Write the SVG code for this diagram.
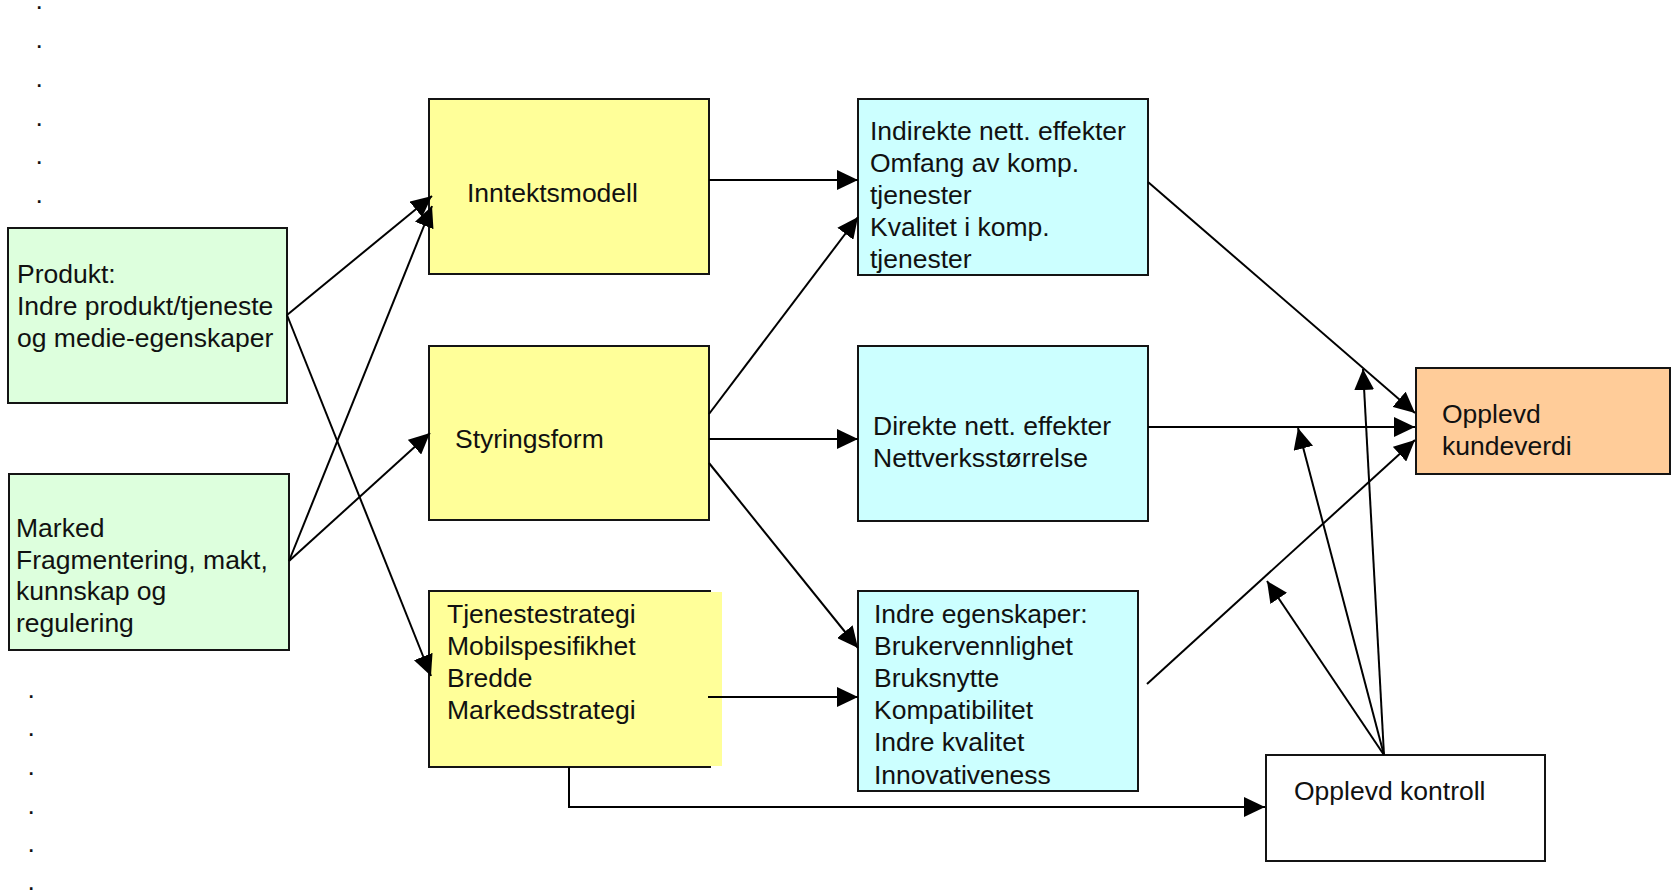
<svg xmlns="http://www.w3.org/2000/svg" width="1671" height="892" viewBox="0 0 1671 892">
  <style>
    .box { stroke: #141414; stroke-width: 2; }
    .green { fill: #DDFFDD; }
    .yellow { fill: #FFFF99; }
    .cyan { fill: #CCFFFF; }
    .orange { fill: #FFCC99; }
    .white { fill: #FFFFFF; }
    text { font-family: "Liberation Sans", Arial, sans-serif; font-size: 26.5px; fill: #111111; }
    .conn line, .conn polyline { stroke: #000000; stroke-width: 2; fill: none; }
    .arrow { marker-end: url(#head); }
  </style>
  <defs>
    <marker id="head" markerUnits="userSpaceOnUse" markerWidth="22" markerHeight="20" refX="21" refY="10" orient="auto" viewBox="0 0 22 20">
      <path d="M0,0 L21,10 L0,20 Z" fill="#000000"/>
    </marker>
  </defs>
  <rect width="1671" height="892" fill="#FFFFFF"/>

  <!-- paragraph marks down the margin -->
  <g id="margin-dots">
    <text x="35.5" y="9">.</text>
    <text x="35.5" y="48">.</text>
    <text x="35.5" y="87">.</text>
    <text x="35.5" y="126">.</text>
    <text x="35.5" y="164">.</text>
    <text x="35.5" y="203">.</text>
    <text x="27.5" y="698">.</text>
    <text x="27.5" y="736">.</text>
    <text x="27.5" y="775">.</text>
    <text x="27.5" y="814">.</text>
    <text x="27.5" y="852">.</text>
    <text x="27.5" y="890">.</text>
  </g>

  <g id="produkt">
    <rect class="box green" x="8" y="228" width="279" height="175"/>
    <text x="17" y="283">Produkt:</text>
    <text x="17" y="315">Indre produkt/tjeneste</text>
    <text x="17" y="347">og medie-egenskaper</text>
  </g>

  <g id="marked">
    <rect class="box green" x="9" y="474" width="280" height="176"/>
    <text x="16" y="537">Marked</text>
    <text x="16" y="569">Fragmentering, makt,</text>
    <text x="16" y="600">kunnskap og</text>
    <text x="16" y="632">regulering</text>
  </g>

  <g id="inntektsmodell">
    <rect class="box yellow" x="429" y="99" width="280" height="175"/>
    <text x="467" y="202">Inntektsmodell</text>
  </g>

  <g id="styringsform">
    <rect class="box yellow" x="429" y="346" width="280" height="174"/>
    <text x="455" y="448">Styringsform</text>
  </g>

  <g id="tjenestestrategi">
    <rect class="box yellow" x="429" y="591" width="281" height="176"/>
    <rect class="yellow" x="431" y="592" width="291" height="174"/>
    <text x="447" y="623">Tjenestestrategi</text>
    <text x="447" y="655">Mobilspesifikhet</text>
    <text x="447" y="687">Bredde</text>
    <text x="447" y="719">Markedsstrategi</text>
  </g>

  <g id="indirekte">
    <rect class="box cyan" x="858" y="99" width="290" height="176"/>
    <text x="870" y="140">Indirekte nett. effekter</text>
    <text x="870" y="172">Omfang av komp.</text>
    <text x="870" y="204">tjenester</text>
    <text x="870" y="236">Kvalitet i komp.</text>
    <text x="870" y="268">tjenester</text>
  </g>

  <g id="direkte">
    <rect class="box cyan" x="858" y="346" width="290" height="175"/>
    <text x="873" y="435">Direkte nett. effekter</text>
    <text x="873" y="467">Nettverksstørrelse</text>
  </g>

  <g id="indre-egenskaper">
    <rect class="box cyan" x="858" y="591" width="280" height="200"/>
    <text x="874" y="623">Indre egenskaper:</text>
    <text x="874" y="655">Brukervennlighet</text>
    <text x="874" y="687">Bruksnytte</text>
    <text x="874" y="719">Kompatibilitet</text>
    <text x="874" y="751">Indre kvalitet</text>
    <text x="874" y="784">Innovativeness</text>
  </g>

  <g id="opplevd-kundeverdi">
    <rect class="box orange" x="1416" y="368" width="254" height="106"/>
    <text x="1442" y="423">Opplevd</text>
    <text x="1442" y="455">kundeverdi</text>
  </g>

  <g id="opplevd-kontroll">
    <rect class="box white" x="1266" y="755" width="279" height="106"/>
    <text x="1294" y="800">Opplevd kontroll</text>
  </g>

  <g id="connectors" class="conn">
    <line class="arrow" x1="287" y1="315" x2="432" y2="196"/>
    <line class="arrow" x1="287" y1="315" x2="431" y2="676"/>
    <line class="arrow" x1="289" y1="561" x2="432" y2="206"/>
    <line class="arrow" x1="289" y1="561" x2="430" y2="433"/>
    <line class="arrow" x1="709" y1="180" x2="858" y2="180"/>
    <line class="arrow" x1="709" y1="414" x2="858" y2="217"/>
    <line class="arrow" x1="709" y1="439" x2="858" y2="439"/>
    <line class="arrow" x1="709" y1="463" x2="858" y2="648"/>
    <line class="arrow" x1="708" y1="697" x2="858" y2="697"/>
    <polyline class="arrow" points="569,767 569,807 1265,807"/>
    <line class="arrow" x1="1148" y1="182" x2="1415" y2="413"/>
    <line class="arrow" x1="1148" y1="427" x2="1415" y2="427"/>
    <line class="arrow" x1="1147" y1="684" x2="1415" y2="440"/>
    <line class="arrow" x1="1384" y1="755" x2="1267" y2="581"/>
    <line class="arrow" x1="1384" y1="755" x2="1298" y2="428"/>
    <line class="arrow" x1="1384" y1="755" x2="1363" y2="369"/>
  </g>
</svg>
